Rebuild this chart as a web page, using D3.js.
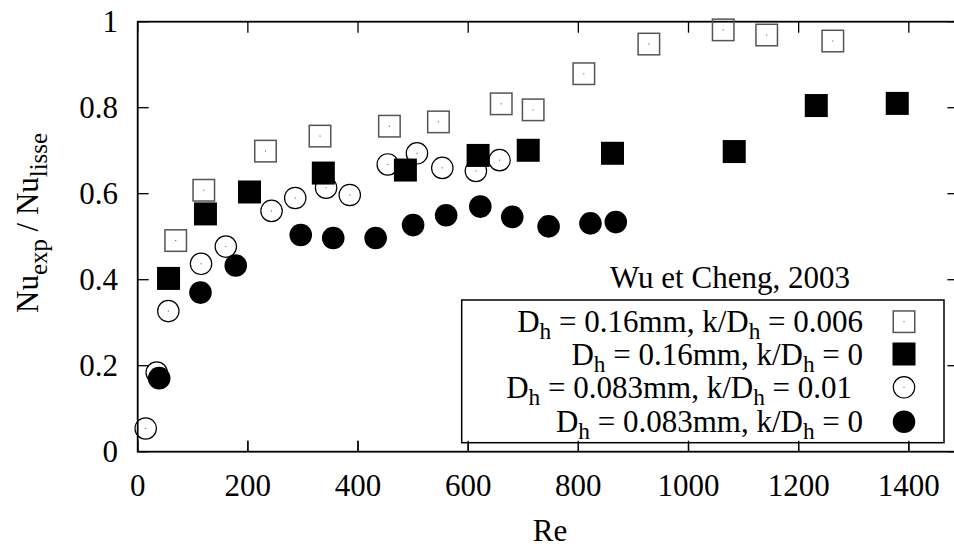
<!DOCTYPE html>
<html>
<head>
<meta charset="utf-8">
<script src="https://cdn.jsdelivr.net/npm/d3@7"></script>
<style>
  html, body { margin: 0; padding: 0; background: #fff; }
  svg, svg text { font-family: "Liberation Serif", "DejaVu Serif", "Noto Serif", serif; }
</style>
</head>
<body>
<svg id="chart" width="954" height="548" font-family="Liberation Serif, DejaVu Serif, serif"></svg>
<script>
// ---- Data ----
// Dh = 0.16mm, k/Dh = 0.006 (open squares)
const reOpenSq = [69, 120, 232, 331, 457, 546, 660, 718, 810, 928, 1063, 1142, 1262];
const nuOpenSq = [0.491, 0.608, 0.699, 0.734, 0.757, 0.767, 0.809, 0.795, 0.879, 0.948, 0.981, 0.969, 0.955];
// Dh = 0.16mm, k/Dh = 0 (filled squares)
const reFillSq = [56, 123, 203, 337, 486, 618, 709, 862, 1083, 1232, 1379];
const nuFillSq = [0.403, 0.553, 0.604, 0.648, 0.655, 0.689, 0.701, 0.694, 0.698, 0.805, 0.810];
// Dh = 0.083mm, k/Dh = 0.01 (open circles)
const reOpenCi = [14.5, 34.5, 55.6, 115, 160, 243, 286, 342, 385, 454, 507, 553, 614, 657];
const nuOpenCi = [0.054, 0.184, 0.327, 0.437, 0.477, 0.560, 0.590, 0.614, 0.597, 0.668, 0.694, 0.660, 0.653, 0.678];
// Dh = 0.083mm, k/Dh = 0 (filled circles)
const reFillCi = [39, 114, 178, 296, 355, 432, 500, 560, 622, 680, 746, 822, 868];
const nuFillCi = [0.171, 0.370, 0.433, 0.504, 0.497, 0.497, 0.527, 0.550, 0.570, 0.546, 0.524, 0.531, 0.534];

const xTicks = [0, 200, 400, 600, 800, 1000, 1200, 1400];
const xTickLabels = ["0", "200", "400", "600", "800", "1000", "1200", "1400"];
const yTicks = [0, 0.2, 0.4, 0.6, 0.8, 1];
const yTickLabels = ["0", "0.2", "0.4", "0.6", "0.8", "1"];

const legendTitle = "Wu et Cheng, 2003";
const legendLabels = [
  [["D",0],["h",1],[" = 0.16mm, k/D",0],["h",1],[" = 0.006",0]],
  [["D",0],["h",1],[" = 0.16mm, k/D",0],["h",1],[" = 0",0]],
  [["D",0],["h",1],[" = 0.083mm, k/D",0],["h",1],[" = 0.01",0]],
  [["D",0],["h",1],[" = 0.083mm, k/D",0],["h",1],[" = 0",0]]
];
const legendShift = [0, 0, -11, 0];

// ---- Layout ----
const L = 137.7, T = 21.7, B = 451.7;
const pxPerUnit = 0.5508;
const xMax = 1490;
const R = L + xMax * pxPerUnit;
const FS = 31;
const FF = "Liberation Serif, DejaVu Serif, serif";

const svg = d3.select("#chart");
const x = d3.scaleLinear().domain([0, xMax]).range([L, R]);
const y = d3.scaleLinear().domain([0, 1]).range([B, T]);

const series = [
  { re: reOpenSq, nu: nuOpenSq, shape: "square", filled: false },
  { re: reFillSq, nu: nuFillSq, shape: "square", filled: true },
  { re: reOpenCi, nu: nuOpenCi, shape: "circle", filled: false },
  { re: reFillCi, nu: nuFillCi, shape: "circle", filled: true }
];

const SQ = 23, CR = 11.3;
function drawMarker(g, cx, cy, s) {
  if (s.shape === "square") {
    if (s.filled) {
      g.append("rect").attr("x", cx - SQ/2).attr("y", cy - SQ/2).attr("width", SQ).attr("height", SQ).attr("fill", "#000");
    } else {
      g.append("rect").attr("x", cx - SQ/2 + 0.75).attr("y", cy - SQ/2 + 0.75).attr("width", SQ - 1.5).attr("height", SQ - 1.5)
        .attr("fill", "none").attr("stroke", "#555").attr("stroke-width", 1.5);
      g.append("rect").attr("x", cx - 0.5).attr("y", cy - 0.5).attr("width", 1).attr("height", 1).attr("fill", "#444");
    }
  } else {
    if (s.filled) {
      g.append("circle").attr("cx", cx).attr("cy", cy).attr("r", CR).attr("fill", "#000");
    } else {
      g.append("circle").attr("cx", cx).attr("cy", cy).attr("r", CR - 0.6).attr("fill", "none").attr("stroke", "#000").attr("stroke-width", 1.2);
      g.append("rect").attr("x", cx - 0.5).attr("y", cy - 0.5).attr("width", 1).attr("height", 1).attr("fill", "#444");
    }
  }
}

function addText(sel) { return sel.append("text").attr("font-family", FF).attr("font-size", FS).attr("fill", "#000"); }

// ---- Axes (ticks inward, mirrored) ----
const axisG = svg.append("g");
const tickLen = 11;
xTicks.forEach((t, i) => {
  const px = x(t);
  axisG.append("line").attr("x1", px).attr("x2", px).attr("y1", B).attr("y2", B - tickLen).attr("stroke", "#000").attr("stroke-width", 1.3);
  axisG.append("line").attr("x1", px).attr("x2", px).attr("y1", T).attr("y2", T + tickLen).attr("stroke", "#000").attr("stroke-width", 1.3);
  addText(svg).attr("x", px).attr("y", 496).attr("text-anchor", "middle").text(xTickLabels[i]);
});
yTicks.forEach((t, i) => {
  const py = y(t);
  axisG.append("line").attr("x1", L).attr("x2", L + tickLen).attr("y1", py).attr("y2", py).attr("stroke", "#000").attr("stroke-width", 1.3);
  axisG.append("line").attr("x1", R).attr("x2", R - tickLen).attr("y1", py).attr("y2", py).attr("stroke", "#000").attr("stroke-width", 1.3);
  addText(svg).attr("x", 118).attr("y", py + 10.5).attr("text-anchor", "end").text(yTickLabels[i]);
});
svg.append("rect").attr("x", L).attr("y", T).attr("width", R - L).attr("height", B - T)
  .attr("fill", "none").attr("stroke", "#000").attr("stroke-width", 1.8);

// Axis titles
addText(svg).attr("x", 550).attr("y", 541).attr("text-anchor", "middle").text("Re");
const yl = addText(svg).attr("transform", "translate(38,223) rotate(-90)").attr("text-anchor", "middle");
yl.append("tspan").text("Nu");
yl.append("tspan").attr("font-size", FS * 0.8).attr("dy", 9).text("exp");
yl.append("tspan").attr("dy", -9).text(" / Nu");
yl.append("tspan").attr("font-size", FS * 0.8).attr("dy", 9).text("lisse");

// ---- Legend ----
const lg = svg.append("g");
lg.append("rect").attr("x", 461.7).attr("y", 300).attr("width", 944 - 461.7).attr("height", 442.7 - 300)
  .attr("fill", "#fff").attr("stroke", "#000").attr("stroke-width", 1.5);
addText(svg).attr("x", 730).attr("y", 288).attr("text-anchor", "middle").text(legendTitle);
const rowY = [321.7, 354, 387.3, 421.7];
legendLabels.forEach((parts, i) => {
  const t = addText(lg).attr("x", 863 + legendShift[i]).attr("y", rowY[i] + 10.5).attr("text-anchor", "end");
  let sub = 0;
  parts.forEach(([s, isSub]) => {
    const ts = t.append("tspan").text(s);
    if (isSub && !sub) { ts.attr("dy", 7).attr("font-size", FS * 0.75); sub = 1; }
    else if (!isSub && sub) { ts.attr("dy", -7); sub = 0; }
  });
  drawMarker(lg, 904, rowY[i], series[i]);
});

// bottom ticks drawn over the legend box (as in the reference)
xTicks.forEach(t => {
  const px = x(t);
  svg.append("line").attr("x1", px).attr("x2", px).attr("y1", B).attr("y2", B - tickLen).attr("stroke", "#000").attr("stroke-width", 1.3);
});

// ---- Points ----
const pg = svg.append("g");
series.forEach(s => {
  s.re.forEach((r, i) => drawMarker(pg, x(r), y(s.nu[i]), s));
});
</script>
</body>
</html>
